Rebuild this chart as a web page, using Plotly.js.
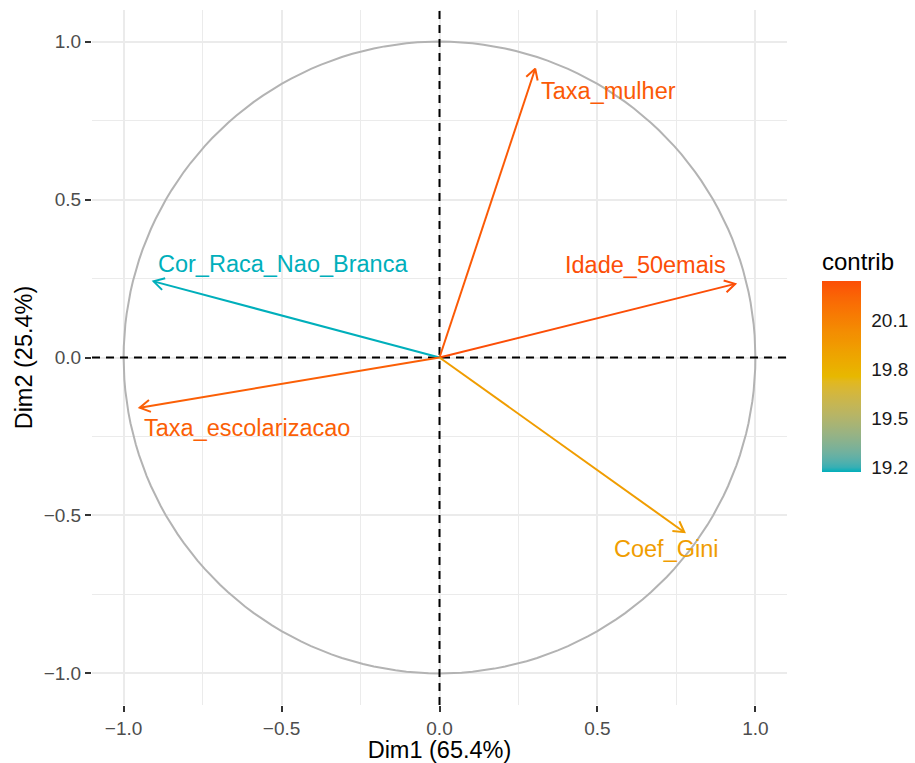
<!DOCTYPE html>
<html>
<head>
<meta charset="utf-8">
<script src="https://cdn.plot.ly/plotly-3.0.1.min.js"></script>
<style>
  html, body { margin: 0; padding: 0; background: #ffffff; }
  #chart { width: 915px; height: 763px; }
</style>
</head>
<body>
<div id="chart"></div>
<script>
// Variables of the PCA and their coordinates on the first two dimensions
const variables = ["Taxa_mulher", "Idade_50emais", "Cor_Raca_Nao_Branca", "Taxa_escolarizacao", "Coef_Gini"];
const dim1 = [0.303, 0.936, -0.905, -0.949, 0.775];
const dim2 = [0.914, 0.233, 0.241, -0.159, -0.553];
// Contribution (%) of each variable to Dim1 + Dim2
const contrib = [20.29, 20.34, 19.17, 20.27, 19.93];

const dim1Label = "Dim1 (65.4%)";
const dim2Label = "Dim2 (25.4%)";
const axisTicks = [-1, -0.5, 0, 0.5, 1];
const contribTicks = [19.2, 19.5, 19.8, 20.1];

// Label placement next to each arrow tip, in pixels [dx, dy]
const labelNudge = [[73, -22], [-90, 19], [129, 17], [107, -20], [-18, -17]];

const FONT = "Liberation Sans, Arial, sans-serif";

// ---- colour ramp interpolated in CIELAB ----
const rampColours = ["#00AFBB", "#E7B800", "#FC4E07"];
function hexToRgb(h) {
  return [1, 3, 5].map(i => parseInt(h.slice(i, i + 2), 16));
}
function toLin(c) { c /= 255; return c <= 0.04045 ? c / 12.92 : Math.pow((c + 0.055) / 1.055, 2.4); }
function fromLin(c) {
  c = c <= 0.0031308 ? 12.92 * c : 1.055 * Math.pow(c, 1 / 2.4) - 0.055;
  return Math.round(Math.max(0, Math.min(1, c)) * 255);
}
const WN = [0.95047, 1, 1.08883];
function rgbToLab(rgb) {
  const [r, g, b] = rgb.map(toLin);
  const xyz = [
    0.4124564 * r + 0.3575761 * g + 0.1804375 * b,
    0.2126729 * r + 0.7151522 * g + 0.0721750 * b,
    0.0193339 * r + 0.1191920 * g + 0.9503041 * b
  ];
  const f = xyz.map((v, i) => { const t = v / WN[i]; return t > 0.008856 ? Math.cbrt(t) : 7.787 * t + 16 / 116; });
  return [116 * f[1] - 16, 500 * (f[0] - f[1]), 200 * (f[1] - f[2])];
}
function labToRgb(lab) {
  const fy = (lab[0] + 16) / 116, fx = fy + lab[1] / 500, fz = fy - lab[2] / 200;
  const inv = t => (t * t * t > 0.008856 ? t * t * t : (t - 16 / 116) / 7.787);
  const X = inv(fx) * WN[0], Y = inv(fy) * WN[1], Z = inv(fz) * WN[2];
  const r = 3.2404542 * X - 1.5371385 * Y - 0.4985314 * Z;
  const g = -0.9692660 * X + 1.8760108 * Y + 0.0415560 * Z;
  const b = 0.0556434 * X - 0.2040259 * Y + 1.0572252 * Z;
  return [fromLin(r), fromLin(g), fromLin(b)];
}
const rampLab = rampColours.map(h => rgbToLab(hexToRgb(h)));
function rampAt(t) {
  t = Math.max(0, Math.min(1, t));
  const seg = Math.min(rampLab.length - 2, Math.floor(t * (rampLab.length - 1)));
  const u = t * (rampLab.length - 1) - seg;
  const a = rampLab[seg], b = rampLab[seg + 1];
  const rgb = labToRgb([0, 1, 2].map(k => a[k] + (b[k] - a[k]) * u));
  return "rgb(" + rgb.join(",") + ")";
}
const colorscale = [];
for (let i = 0; i <= 40; i++) colorscale.push([i / 40, rampAt(i / 40)]);

const cmin = Math.min(...contrib), cmax = Math.max(...contrib);
const colours = contrib.map(v => rampAt((v - cmin) / (cmax - cmin)));

// ---- geometry of the plot ----
const W = 915, H = 763;
const M = { l: 92, r: 128, t: 10, b: 58 };
const plotW = W - M.l - M.r, plotH = H - M.t - M.b;
const RANGE = [-1.1, 1.1];
const unitPx = plotW / (RANGE[1] - RANGE[0]);
const headLen = 12 / unitPx;            // arrowhead arm length in axis units
const headAng = Math.PI / 6;

const traces = [];

// unit correlation circle
const circX = [], circY = [];
for (let k = 0; k <= 360; k += 2) {
  circX.push(Math.cos(k * Math.PI / 180));
  circY.push(Math.sin(k * Math.PI / 180));
}
traces.push({
  type: "scatter", mode: "lines", x: circX, y: circY,
  line: { color: "#B3B3B3", width: 2 }, hoverinfo: "skip", showlegend: false
});

// dashed reference lines through the origin
const dashLine = { color: "#000000", width: 2, dash: "8px,6px" };
traces.push({
  type: "scatter", mode: "lines", x: [RANGE[0], RANGE[1]], y: [0, 0],
  line: dashLine, hoverinfo: "skip", showlegend: false
});
traces.push({
  type: "scatter", mode: "lines", x: [0, 0], y: [RANGE[0], RANGE[1]],
  line: dashLine, hoverinfo: "skip", showlegend: false
});

// variable arrows with open heads
variables.forEach((name, i) => {
  const x = dim1[i], y = dim2[i];
  const th = Math.atan2(y, x);
  const a1 = [x - headLen * Math.cos(th + headAng), y - headLen * Math.sin(th + headAng)];
  const a2 = [x - headLen * Math.cos(th - headAng), y - headLen * Math.sin(th - headAng)];
  traces.push({
    type: "scatter", mode: "lines", name: name,
    x: [0, x, null, a1[0], x, a2[0]],
    y: [0, y, null, a1[1], y, a2[1]],
    line: { color: colours[i], width: 2 },
    hoverinfo: "skip", showlegend: false
  });
});

// colour bar (bar itself spans cbTopPx..cbBottomPx, title sits above it)
const cbBarLen = 191, cbTitleH = 32, cbThick = 39, cbLeftPx = 822, cbTopPx = 281;
const cbBottomPx = cbTopPx + cbBarLen;
const cbCenterPx = (cbTopPx - cbTitleH + cbBottomPx) / 2;
traces.push({
  type: "scatter", mode: "markers",
  x: dim1, y: dim2,
  marker: {
    size: 1, opacity: 0,
    color: contrib, cmin: cmin, cmax: cmax, colorscale: colorscale, showscale: true,
    colorbar: {
      thickness: cbThick, thicknessmode: "pixels",
      len: cbBarLen + cbTitleH, lenmode: "pixels",
      x: (cbLeftPx - M.l) / plotW, xanchor: "left",
      y: (H - M.b - cbCenterPx) / plotH, yanchor: "middle",
      xpad: 0, ypad: 0, outlinewidth: 0,
      tickvals: contribTicks, ticktext: contribTicks.map(v => v.toFixed(1)),
      ticks: "outside", ticklen: 7, tickwidth: 1, tickcolor: "rgba(255,255,255,0)",
      tickfont: { family: FONT, size: 19, color: "#1a1a1a" },
      title: { text: "contrib", side: "top", font: { family: FONT, size: 24, color: "#000000" } }
    }
  },
  hoverinfo: "skip", showlegend: false
});

// white tick marks on both edges of the colour bar
const cbShapes = [];
contribTicks.forEach(v => {
  const py = cbBottomPx - (v - cmin) / (cmax - cmin) * cbBarLen;
  const yp = (H - M.b - py) / plotH;
  [[cbLeftPx, cbLeftPx + 8], [cbLeftPx + cbThick - 8, cbLeftPx + cbThick]].forEach(seg => {
    cbShapes.push({
      type: "line", xref: "paper", yref: "paper", layer: "above",
      x0: (seg[0] - M.l) / plotW, x1: (seg[1] - M.l) / plotW, y0: yp, y1: yp,
      line: { color: "rgba(255,255,255,0.8)", width: 1.2 }
    });
  });
});

const annotations = variables.map((name, i) => ({
  x: dim1[i], y: dim2[i], xref: "x", yref: "y",
  text: name, showarrow: false,
  xanchor: "center", yanchor: "middle",
  xshift: labelNudge[i][0], yshift: labelNudge[i][1],
  font: { family: FONT, size: 23.5, color: colours[i] }
}));

const gridCol = "#EBEBEB";
const axisCommon = {
  range: RANGE, tickvals: axisTicks, tickformat: ".1f",
  showgrid: true, gridcolor: gridCol, gridwidth: 2,
  minor: { dtick: 0.25, tick0: 0, showgrid: true, gridcolor: gridCol, gridwidth: 1.2, ticks: "" },
  zeroline: false, showline: false,
  ticks: "outside", ticklen: 6, tickwidth: 2, tickcolor: "#333333",
  tickfont: { family: FONT, size: 19, color: "#4D4D4D" },
  fixedrange: true, automargin: false
};

const layout = {
  width: W, height: H,
  margin: { l: M.l, r: M.r, t: M.t, b: M.b, pad: 0, autoexpand: false },
  paper_bgcolor: "#ffffff", plot_bgcolor: "#ffffff",
  showlegend: false,
  xaxis: Object.assign({}, axisCommon, {
    title: { text: dim1Label, standoff: 6, font: { family: FONT, size: 23.5, color: "#000000" } }
  }),
  yaxis: Object.assign({}, axisCommon, {
    title: { text: dim2Label, standoff: 4, font: { family: FONT, size: 23.5, color: "#000000" } }
  }),
  shapes: cbShapes,
  annotations: annotations
};

Plotly.newPlot("chart", traces, layout, { displayModeBar: false, staticPlot: true });
</script>
</body>
</html>
